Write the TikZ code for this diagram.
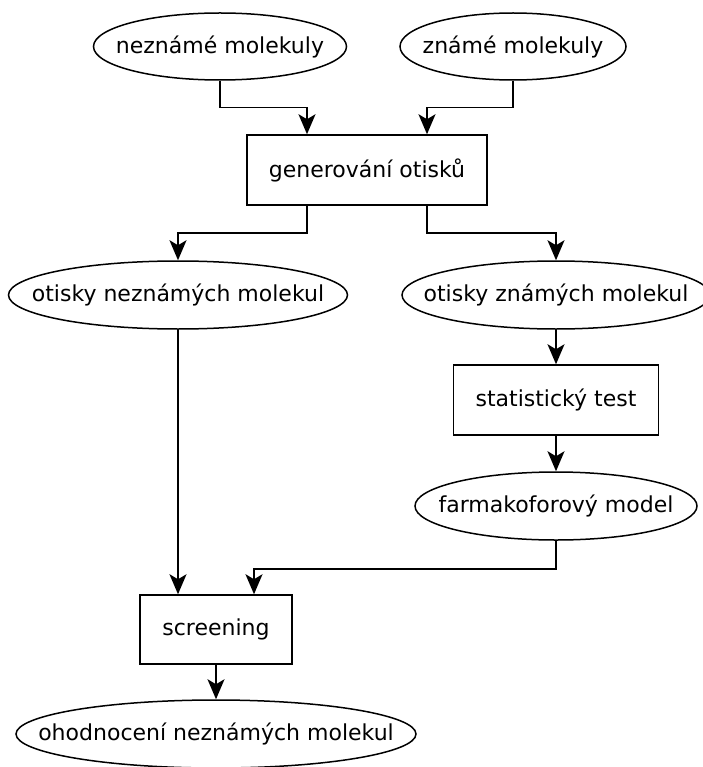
\documentclass[tikz,border=0pt]{standalone}
\usepackage{fontspec}
\setmainfont{DejaVu Sans}
\usetikzlibrary{shapes.geometric,arrows.meta}
% text of zero width, so that an oval keeps its given size
\newcommand{\ovaltext}[1]{\makebox[0pt][c]{#1}}
\begin{document}
\begin{tikzpicture}[x=1pt,y=-1pt,
  every node/.style={font=\fontsize{22}{26}\selectfont, line width=1.5pt, inner sep=0pt},
  oval/.style={draw, ellipse},
  stepbox/.style={draw, rectangle},
  arr/.style={line width=1.5pt, -{Stealth[length=20pt,width=17pt,inset=5pt]}}]
\useasboundingbox (0,0) rectangle (702,767);

% data ovals and processing boxes
\node[oval, minimum width=253, minimum height=67] (nm) at (220,46.5) {\ovaltext{neznámé molekuly}};
\node[oval, minimum width=226, minimum height=67] (zm) at (513,46.5) {\ovaltext{známé molekuly}};
\node[stepbox, minimum width=240, minimum height=70] (gen) at (367,170) {generování otisků};
\node[oval, minimum width=339, minimum height=68] (on) at (178,295) {\ovaltext{otisky neznámých molekul}};
\node[oval, minimum width=308, minimum height=68] (oz) at (556,295) {\ovaltext{otisky známých molekul}};
\node[stepbox, minimum width=205, minimum height=70] (st) at (556,400) {statistický test};
\node[oval, minimum width=282, minimum height=68] (fm) at (556,506) {\ovaltext{farmakoforový model}};
\node[stepbox, minimum width=152, minimum height=69] (sc) at (216,629.5) {screening};
\node[oval, minimum width=400, minimum height=68] (oh) at (216,734) {\ovaltext{ohodnocení neznámých molekul}};

% connectors
\draw[arr] (nm.south) -- ++(0,27) -| ([xshift=-60pt]gen.north);
\draw[arr] (zm.south) -- ++(0,27) -| ([xshift=60pt]gen.north);
\draw[arr] ([xshift=-60pt]gen.south) -- ++(0,27) -| (on.north);
\draw[arr] ([xshift=60pt]gen.south) -- ++(0,27) -| (oz.north);
\draw[arr] (oz.south) -- (st.north);
\draw[arr] (st.south) -- (fm.north);
\draw[arr] (on.south) -- ([xshift=-38pt]sc.north);
\draw[arr] (fm.south) -- ++(0,28) -| ([xshift=38pt]sc.north);
\draw[arr] (sc.south) -- (oh.north);
\end{tikzpicture}
\end{document}
